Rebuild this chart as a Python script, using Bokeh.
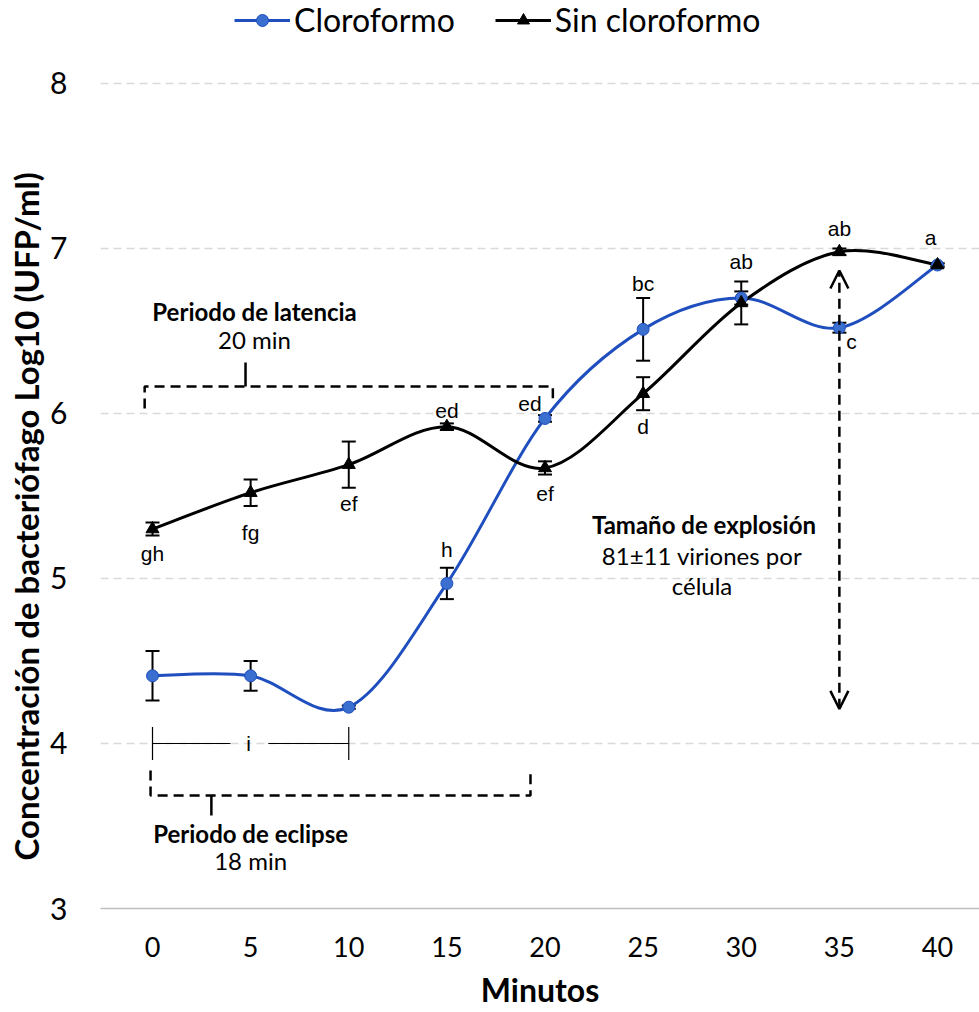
import numpy as np
from bokeh.plotting import figure
from bokeh.models import (Range1d, Whisker, TeeHead, ColumnDataSource, Legend, LegendItem,
                          Arrow, OpenHead, Label, FixedTicker, Title)
from bokeh.embed import file_html
from bokeh.resources import INLINE
from bokeh.core.properties import value

# ---------------- data ----------------
minutos = [0, 5, 10, 15, 20, 25, 30, 35, 40]
cloroformo = [4.41, 4.41, 4.22, 4.97, 5.97, 6.51, 6.70, 6.52, 6.90]
cloroformo_err = [0.15, 0.09, 0.01, 0.095, 0.02, 0.19, 0.04, 0.03, 0.01]
sin_cloroformo = [5.30, 5.52, 5.69, 5.92, 5.67, 6.12, 6.67, 6.98, 6.90]
sin_cloroformo_err = [0.04, 0.08, 0.14, 0.02, 0.04, 0.10, 0.13, 0.02, 0.01]
letras_cloro = ["", "", "", "h", "ed", "bc", "ab", "c", "a"]
letras_sin = ["gh", "fg", "ef", "ed", "ef", "d", "", "ab", ""]
x_ticks = [0, 5, 10, 15, 20, 25, 30, 35, 40]
y_ticks = [3, 4, 5, 6, 7, 8]

# letter offsets in screen pixels (dx right, dy down)
off_cloro = [(0, 0), (0, 0), (0, 0), (0, -34), (-15, -15), (0, -46), (0, -36), (12, 14), (-7, -27)]
off_sin = [(0, 25), (0, 40), (0, 39), (0, -16), (0, 26), (0, 33), (0, 0), (0, -23), (0, 0)]

BLUE = "#1F4EBF"
BLUE_M = "#3A6FD0"
FONT = "Lato"

PX_X = 19.625   # pixels per minute
PX_Y = 165.0    # pixels per log unit

p = figure(width=979, height=1012, output_backend="svg", toolbar_location=None,
           x_range=Range1d(-2.65, 42.14), y_range=Range1d(3, 8.503),
           min_border_left=100, min_border_right=0, min_border_top=0, min_border_bottom=104)
p.outline_line_color = None
p.background_fill_color = "white"
p.border_fill_color = "white"

# axes
p.xaxis.ticker = FixedTicker(ticks=x_ticks)
p.yaxis.ticker = FixedTicker(ticks=y_ticks)
p.xaxis.axis_line_color = "#BFBFBF"
p.xaxis.axis_line_width = 1.5
p.xaxis.major_tick_line_color = None
p.xaxis.minor_tick_line_color = None
p.yaxis.axis_line_color = None
p.yaxis.major_tick_line_color = None
p.yaxis.minor_tick_line_color = None
p.xaxis.major_label_text_font = FONT
p.yaxis.major_label_text_font = FONT
p.xaxis.major_label_text_font_size = "27px"
p.yaxis.major_label_text_font_size = "30px"
p.xaxis.major_label_text_color = "black"
p.yaxis.major_label_text_color = "black"
p.xaxis.major_label_standoff = 22
p.yaxis.major_label_standoff = 27
p.xaxis.axis_label = "Minutos"
p.xaxis.axis_label_text_font = FONT
p.xaxis.axis_label_text_font_size = "32px"
p.xaxis.axis_label_text_font_style = "bold"
p.xaxis.axis_label_text_color = "black"
p.xaxis.axis_label_standoff = 10

p.add_layout(Title(text="Concentración de bacteriófago Log10 (UFP/ml)", align="left", offset=48,
                   text_font=FONT, text_font_size="33px", text_font_style="bold",
                   text_color="black", standoff=4), "left")

p.xgrid.grid_line_color = None
p.ygrid.ticker = FixedTicker(ticks=[4, 5, 6, 7, 8])
p.ygrid.grid_line_color = "#D9D9D9"
p.ygrid.grid_line_width = 1.5
p.ygrid.grid_line_dash = "8 5"


def smooth_segments(xs, ys):
    n = len(xs)
    xs = list(xs); ys = list(ys)
    out = dict(x0=[], y0=[], x1=[], y1=[], cx0=[], cy0=[], cx1=[], cy1=[])
    for i in range(n - 1):
        xa, ya = (xs[i - 1], ys[i - 1]) if i > 0 else (xs[i], ys[i])
        xd, yd = (xs[i + 2], ys[i + 2]) if i + 2 < n else (xs[i + 1], ys[i + 1])
        out["x0"].append(xs[i]); out["y0"].append(ys[i])
        out["x1"].append(xs[i + 1]); out["y1"].append(ys[i + 1])
        out["cx0"].append(xs[i] + (xs[i + 1] - xa) / 6.0)
        out["cy0"].append(ys[i] + (ys[i + 1] - ya) / 6.0)
        out["cx1"].append(xs[i + 1] - (xd - xs[i]) / 6.0)
        out["cy1"].append(ys[i + 1] - (yd - ys[i]) / 6.0)
    return ColumnDataSource(out)


# annotations: brackets
dash = "10 6"
p.line([-0.4, -0.4, 20.4, 20.4], [6.03, 6.164, 6.164, 6.06], line_color="black", line_width=2.5, line_dash=dash)
p.line([4.74, 4.74], [6.164, 6.309], line_color="black", line_width=2.5)
p.line([-0.1, -0.1, 19.26, 19.26], [3.836, 3.685, 3.685, 3.836], line_color="black", line_width=2.5, line_dash=dash)
p.line([3.0, 3.0], [3.685, 3.564], line_color="black", line_width=2.5)

# "i" range bar
p.line([0, 3.97], [4, 4], line_color="black", line_width=1.2)
p.line([5.9, 10], [4, 4], line_color="black", line_width=1.2)
p.line([0, 0], [3.9, 4.1], line_color="black", line_width=1.2)
p.line([10, 10], [3.9, 4.1], line_color="black", line_width=1.2)

# double arrow (burst size)
p.add_layout(Arrow(x_start=35, y_start=4.21, x_end=35, y_end=6.867,
                   line_color="black", line_width=2.5, line_dash=dash,
                   start=OpenHead(size=18, line_width=2.5, line_color="black"),
                   end=OpenHead(size=18, line_width=2.5, line_color="black")))

# curves
src_c = smooth_segments(minutos, cloroformo)
src_s = smooth_segments(minutos, sin_cloroformo)
bz_c = p.bezier(x0="x0", y0="y0", x1="x1", y1="y1", cx0="cx0", cy0="cy0", cx1="cx1", cy1="cy1",
                source=src_c, line_color=BLUE, line_width=3)
bz_s = p.bezier(x0="x0", y0="y0", x1="x1", y1="y1", cx0="cx0", cy0="cy0", cx1="cx1", cy1="cy1",
                source=src_s, line_color="black", line_width=3)

# error bars
ec = ColumnDataSource(dict(x=minutos, lo=[v - e for v, e in zip(cloroformo, cloroformo_err)],
                           hi=[v + e for v, e in zip(cloroformo, cloroformo_err)]))
es = ColumnDataSource(dict(x=minutos, lo=[v - e for v, e in zip(sin_cloroformo, sin_cloroformo_err)],
                           hi=[v + e for v, e in zip(sin_cloroformo, sin_cloroformo_err)]))
for s in (ec, es):
    p.add_layout(Whisker(source=s, base="x", lower="lo", upper="hi", line_color="black", line_width=2,
                         upper_head=TeeHead(size=14, line_width=2, line_color="black"),
                         lower_head=TeeHead(size=14, line_width=2, line_color="black")))

sc_c = p.scatter(minutos, cloroformo, marker="circle", size=12, fill_color=BLUE_M, line_color=BLUE, line_width=1)
sc_s = p.scatter(minutos, sin_cloroformo, marker="triangle", size=13, fill_color="black", line_color="black")

# letters
lx, ly, lt = [], [], []
for xs, ys, letters, offs in ((minutos, cloroformo, letras_cloro, off_cloro),
                              (minutos, sin_cloroformo, letras_sin, off_sin)):
    for xv, yv, t, (dx, dy) in zip(xs, ys, letters, offs):
        if t:
            lx.append(xv + dx / PX_X); ly.append(yv - dy / PX_Y); lt.append(t)
lx.append(4.9); ly.append(4.0); lt.append("i")
p.text(x=lx, y=ly, text=lt, text_font=value("Liberation Sans"), text_font_size="21px",
       text_align="center", text_baseline="middle", text_color="black")


def add_label(x, y, text, bold=False, size="24px"):
    p.add_layout(Label(x=x, y=y, text=text, text_font=FONT, text_font_size=size,
                       text_font_style="bold" if bold else "normal", text_align="center",
                       text_baseline="middle", text_color="black"))


add_label(5.2, 6.62, "Periodo de latencia", bold=True)
add_label(5.2, 6.45, "20 min")
add_label(5.0, 3.455, "Periodo de eclipse", bold=True)
add_label(5.0, 3.29, "18 min")
add_label(28.1, 5.325, "Tamaño de explosión", bold=True)
add_label(28.0, 5.14, "81±11 viriones por")
add_label(28.0, 4.955, "célula")

legend = Legend(items=[LegendItem(label="Cloroformo", renderers=[bz_c, sc_c]),
                       LegendItem(label="Sin cloroformo", renderers=[bz_s, sc_s])],
                location=(134, 869), orientation="horizontal",
                label_text_font=FONT, label_text_font_size="32px", label_text_color="black",
                glyph_width=56, glyph_height=30, label_standoff=4, spacing=40,
                background_fill_alpha=0, border_line_alpha=0, padding=0, margin=0)
p.add_layout(legend)

open("out.html", "w").write(file_html(p, INLINE))
